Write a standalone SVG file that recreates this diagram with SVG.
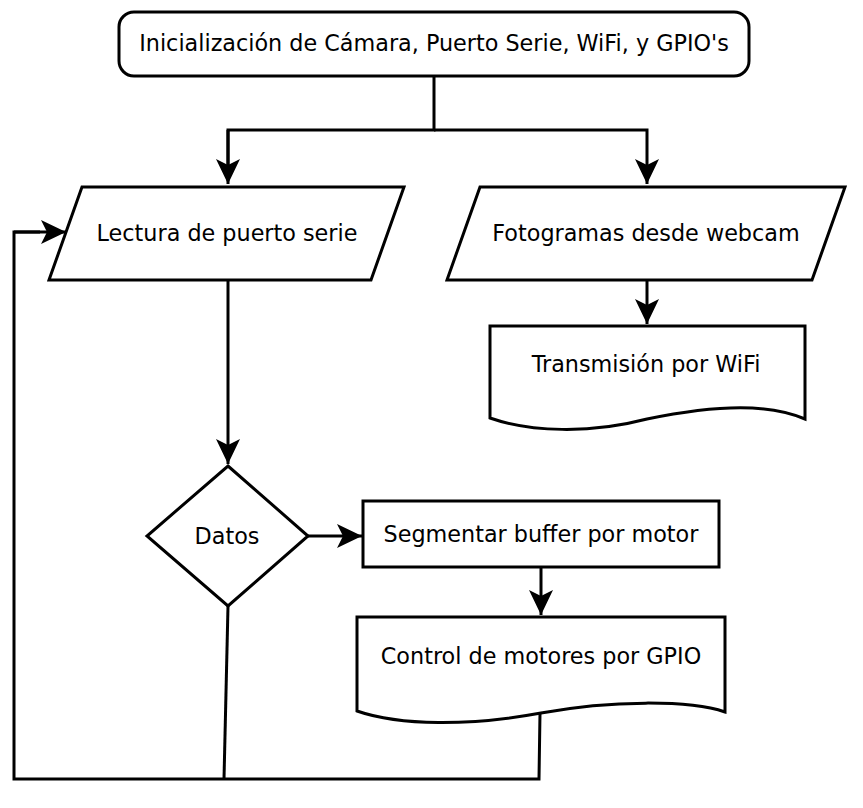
<svg xmlns="http://www.w3.org/2000/svg" width="863" height="808" viewBox="0 0 863 808">
<style>
.s{fill:#fff;stroke:#000;stroke-width:3;stroke-linejoin:miter}
.c{fill:none;stroke:#000;stroke-width:3}
.a{marker-end:url(#ah)}
text{font-family:"DejaVu Sans",sans-serif;font-size:22.3px;fill:#000;text-anchor:middle}
</style>
<defs>
<marker id="ah" markerUnits="userSpaceOnUse" markerWidth="30" markerHeight="30" viewBox="-28 -14 30 28" refX="0" refY="0" orient="auto">
<path d="M0,0 L-25,-12 L-19,0 L-25,12 Z" fill="#000"/>
</marker>
</defs>
<rect width="863" height="808" fill="#fff"/>
<g id="connectors">
<path class="c" d="M434,76 V130 H228 V165"/>
<path class="c a" d="M228,130 V184"/>
<path class="c a" d="M434,130 H647 V184"/>
<path class="c a" d="M647,281 V324"/>
<path class="c a" d="M228,281 V464"/>
<path class="c a" d="M308,536 H362"/>
<path class="c a" d="M541,567 V615"/>
<path class="c" d="M228,606 L224,779"/>
<path class="c" d="M540,713 L539,779 H14 V232 H40"/>
<path class="c a" d="M14,232 H66"/>
</g>
<g id="init">
<rect class="s" x="119" y="12" width="630" height="64" rx="15"/>
<text x="434" y="51">Inicialización de Cámara, Puerto Serie, WiFi, y GPIO's</text>
</g>
<g id="lectura">
<path class="s" d="M82,187 H404 L371,280 H49 Z"/>
<text x="227" y="241">Lectura de puerto serie</text>
</g>
<g id="fotogramas">
<path class="s" d="M480,187 H845 L812,280 H447 Z"/>
<text x="646" y="241">Fotogramas desde webcam</text>
</g>
<g id="transmision">
<path class="s" d="M490,326 H805 V419 C770,404 720,404 647,419 C590,434 530,432 490,418 Z"/>
<text x="646" y="372">Transmisión por WiFi</text>
</g>
<g id="datos">
<path class="s" d="M228,466 L308,536 L228,606 L147,536 Z"/>
<text x="227" y="544">Datos</text>
</g>
<g id="segmentar">
<rect class="s" x="363" y="501" width="356" height="66"/>
<text x="541" y="542">Segmentar buffer por motor</text>
</g>
<g id="control">
<path class="s" d="M357,617 H725 V712 C690,700 610,700 541,713 C470,726 400,726 357,711 Z"/>
<text x="541" y="664">Control de motores por GPIO</text>
</g>
</svg>
